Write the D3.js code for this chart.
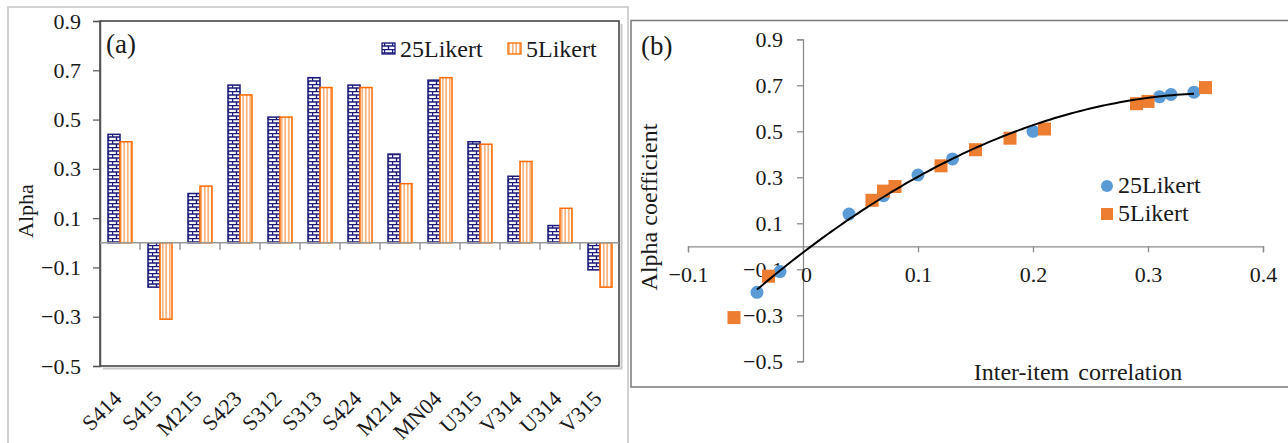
<!DOCTYPE html>
<html>
<head>
<meta charset="utf-8">
<script src="https://cdn.jsdelivr.net/npm/d3@7"></script>
<style>
  html, body { margin: 0; padding: 0; background: #fff; }
  svg { display: block; font-family: "Liberation Serif", "Times New Roman", serif; }
</style>
</head>
<body>
<svg id="chart" width="1288" height="443"></svg>
<script>
// ---------- data ----------
const categories = ["S414","S415","M215","S423","S312","S313","S424","M214","MN04","U315","V314","U314","V315"];
const alpha25 = [0.44,-0.18,0.20,0.64,0.51,0.67,0.64,0.36,0.66,0.41,0.27,0.07,-0.11];
const alpha5  = [0.41,-0.31,0.23,0.60,0.51,0.63,0.63,0.24,0.67,0.40,0.33,0.14,-0.18];
const seriesNames = ["25Likert","5Likert"];
const yTicks = [-0.5,-0.3,-0.1,0.1,0.3,0.5,0.7,0.9];

const corr25 = [-0.04,-0.02,0.04,0.07,0.10,0.13,0.20,0.31,0.32,0.34];
const coef25 = [-0.20,-0.11,0.14,0.22,0.31,0.38,0.50,0.65,0.66,0.67];
const corr5  = [-0.06,-0.03,0.06,0.07,0.08,0.12,0.15,0.18,0.21,0.29,0.30,0.35];
const coef5  = [-0.31,-0.13,0.20,0.24,0.26,0.35,0.42,0.47,0.51,0.62,0.63,0.69];
const xTicksB = [-0.1,0,0.1,0.2,0.3,0.4];

// ---------- setup ----------
const svg = d3.select("#chart");
const FONT = 22, BIG = 24;
const navy = "#1b1b7d", orangeBar = "#ff6a00";
const blueDot = "#5b9bd5", orangeDot = "#ed7d31";
const textCol = "#1a1a1a";

const defs = svg.append("defs");
const brick = defs.append("pattern").attr("id","brick").attr("patternUnits","userSpaceOnUse")
  .attr("width",8).attr("height",7);
brick.append("rect").attr("width",8).attr("height",7).attr("fill","#fff");
brick.append("path").attr("d","M0,0.5H8M0,4H8M0.5,0V4M4.5,4V7")
  .attr("stroke",navy).attr("stroke-width",1.4).attr("fill","none");
const vert = defs.append("pattern").attr("id","vert").attr("patternUnits","userSpaceOnUse")
  .attr("width",3.5).attr("height",4);
vert.append("rect").attr("width",3.5).attr("height",4).attr("fill","#fff");
vert.append("path").attr("d","M1.75,0V4").attr("stroke",orangeBar).attr("stroke-width",0.9);

// ---------- panel (a) ----------
svg.append("rect").attr("x",8).attr("y",7).attr("width",620).attr("height",460)
  .attr("fill","none").attr("stroke","#d2d2d2").attr("stroke-width",2);

const x0 = d3.scaleBand().domain(categories).range([100,620]).paddingInner(0).paddingOuter(0);
const x1 = d3.scaleBand().domain(seriesNames).range([0,x0.bandwidth()]).paddingInner(0).paddingOuter(2/3);
const yA = d3.scaleLinear().domain([-0.5,0.9]).range([366,21]);

// frame shadow + frame
svg.append("path").attr("d",`M621.5,24V368.5H103`).attr("fill","none").attr("stroke","#c8c8c8").attr("stroke-width",2);
svg.append("rect").attr("x",100).attr("y",21).attr("width",519).attr("height",345)
  .attr("fill","#fff").attr("stroke","#3a3a3a").attr("stroke-width",1.5);

// y axis
const gyA = svg.append("g").attr("transform","translate(100,0)")
  .call(d3.axisLeft(yA).tickValues(yTicks).tickSize(7).tickPadding(12).tickFormat(d3.format(".1f")));
gyA.select(".domain").attr("stroke","#555").attr("stroke-width",1.5);
gyA.selectAll(".tick line").attr("stroke","#555").attr("stroke-width",1.2);
gyA.selectAll(".tick text").attr("font-size",FONT).attr("fill",textCol).attr("font-family","Liberation Serif");

// bars
const rows = categories.map((c,i)=>({c, vals:[{s:"25Likert",v:alpha25[i]},{s:"5Likert",v:alpha5[i]}]}));
const gb = svg.append("g");
rows.forEach(r=>{
  r.vals.forEach(d=>{
    gb.append("rect")
      .attr("x", x0(r.c)+x1(d.s))
      .attr("y", Math.min(yA(d.v), yA(0)))
      .attr("width", x1.bandwidth())
      .attr("height", Math.abs(yA(d.v)-yA(0)))
      .attr("fill", d.s==="25Likert" ? "url(#brick)" : "url(#vert)")
      .attr("stroke", d.s==="25Likert" ? navy : orangeBar)
      .attr("stroke-width", 1.5);
  });
});

// zero line with category boundary ticks
svg.append("line").attr("x1",100).attr("x2",619).attr("y1",yA(0)).attr("y2",yA(0))
  .attr("stroke","#9a9a9a").attr("stroke-width",1.5);
svg.append("g").selectAll("line").data(categories.slice(1)).join("line")
  .attr("x1",d=>x0(d)).attr("x2",d=>x0(d)).attr("y1",yA(0)).attr("y2",yA(0)+7)
  .attr("stroke","#9a9a9a").attr("stroke-width",1.5);

// category labels
const gxA = svg.append("g").attr("transform",`translate(0,366)`)
  .call(d3.axisBottom(x0).tickSize(0).tickFormat(d=>d));
gxA.select(".domain").remove();
gxA.selectAll(".tick text")
  .attr("font-size",FONT).attr("fill",textCol).attr("font-family","Liberation Serif")
  .attr("text-anchor","end").attr("dy",null).attr("y",null)
  .attr("transform","translate(3,34) rotate(-45)");

// y title
svg.append("text").attr("transform","translate(33,211) rotate(-90)")
  .attr("text-anchor","middle").attr("font-size",FONT).attr("fill",textCol).text("Alpha");
svg.append("text").attr("x",106).attr("y",53).attr("font-size",27).attr("fill",textCol).text("(a)");

// legend (a)
const legA = [{s:"25Likert",x:382,fill:"url(#brick)",st:navy},{s:"5Likert",x:508,fill:"url(#vert)",st:orangeBar}];
legA.forEach(l=>{
  svg.append("rect").attr("x",l.x).attr("y",43).attr("width",13).attr("height",11)
    .attr("fill",l.fill).attr("stroke",l.st).attr("stroke-width",1.3);
  svg.append("text").attr("x",l.x+18).attr("y",57).attr("font-size",BIG).attr("fill",textCol).text(l.s);
});

// ---------- panel (b) ----------
svg.append("path").attr("d","M1295,20.5H631V387H1295").attr("fill","none")
  .attr("stroke","#7a7a7a").attr("stroke-width",1.5);

const xB = d3.scaleLinear().domain([-0.1,0.4]).range([688,1263]);
const yB = d3.scaleLinear().domain([-0.5,0.9]).range([361.3,39.3]);

const gyB = svg.append("g").attr("transform",`translate(${xB(0)},0)`)
  .call(d3.axisLeft(yB).tickValues(yTicks).tickSize(6).tickPadding(14).tickFormat(d3.format(".1f")));
gyB.select(".domain").attr("stroke","#8c8c8c").attr("stroke-width",1.3);
gyB.selectAll(".tick line").attr("stroke","#8c8c8c").attr("stroke-width",1.3);
gyB.selectAll(".tick text").attr("font-size",FONT).attr("fill",textCol).attr("font-family","Liberation Serif");

const gxB = svg.append("g").attr("transform",`translate(0,${yB(0)})`)
  .call(d3.axisBottom(xB).tickValues(xTicksB).tickSize(6).tickPadding(14)
    .tickFormat(d=> d===0 ? "0" : d3.format(".1f")(d)));
gxB.select(".domain").attr("stroke","#8c8c8c").attr("stroke-width",1.3);
gxB.selectAll(".tick line").attr("stroke","#8c8c8c").attr("stroke-width",1.3);
gxB.selectAll(".tick text").attr("font-size",FONT).attr("fill",textCol).attr("font-family","Liberation Serif");
gxB.selectAll(".tick").filter(d=>d===0).select("text").attr("dx",3);

// points
const pts25 = corr25.map((x,i)=>({x, y:coef25[i]}));
const pts5 = corr5.map((x,i)=>({x, y:coef5[i]}));
svg.append("g").selectAll("circle").data(pts25).join("circle")
  .attr("cx",d=>xB(d.x)).attr("cy",d=>yB(d.y)).attr("r",6.5).attr("fill",blueDot);
svg.append("g").selectAll("rect").data(pts5).join("rect")
  .attr("x",d=>xB(d.x)-6.5).attr("y",d=>yB(d.y)-6.5).attr("width",13).attr("height",13).attr("fill",orangeDot);

// polynomial (order 2) least-squares trendline on 25Likert series
function polyFit2(xs, ys){
  let S=[0,0,0,0,0], T=[0,0,0];
  xs.forEach((x,i)=>{ for(let k=0;k<5;k++) S[k]+=Math.pow(x,k); for(let k=0;k<3;k++) T[k]+=ys[i]*Math.pow(x,k); });
  const A=[[S[0],S[1],S[2],T[0]],[S[1],S[2],S[3],T[1]],[S[2],S[3],S[4],T[2]]];
  for(let i=0;i<3;i++){
    let p=i; for(let r=i+1;r<3;r++) if(Math.abs(A[r][i])>Math.abs(A[p][i])) p=r;
    [A[i],A[p]]=[A[p],A[i]];
    for(let r=0;r<3;r++){ if(r===i) continue; const f=A[r][i]/A[i][i]; for(let c=i;c<4;c++) A[r][c]-=f*A[i][c]; }
  }
  return [A[0][3]/A[0][0], A[1][3]/A[1][1], A[2][3]/A[2][2]];
}
const coefs = polyFit2(corr25, coef25);
const xmin = d3.min(corr25), xmax = d3.max(corr25);
const curve = d3.range(0,101).map(i=>{ const x = xmin + (xmax-xmin)*i/100; return [x, coefs[0]+coefs[1]*x+coefs[2]*x*x]; });
svg.append("path").datum(curve)
  .attr("d", d3.line().x(d=>xB(d[0])).y(d=>yB(d[1])))
  .attr("fill","none").attr("stroke","#000").attr("stroke-width",2);

// titles
svg.append("text").attr("transform","translate(657,207) rotate(-90)")
  .attr("text-anchor","middle").attr("font-size",BIG).attr("fill",textCol).text("Alpha coefficient");
svg.append("text").attr("x",1078).attr("y",380).attr("text-anchor","middle")
  .attr("font-size",BIG).attr("fill",textCol).attr("word-spacing",3).text("Inter-item correlation");
svg.append("text").attr("x",641).attr("y",55).attr("font-size",27).attr("fill",textCol).text("(b)");

// legend (b)
svg.append("circle").attr("cx",1107).attr("cy",186).attr("r",6).attr("fill",blueDot);
svg.append("text").attr("x",1118).attr("y",193).attr("font-size",BIG).attr("fill",textCol).text("25Likert");
svg.append("rect").attr("x",1101).attr("y",208).attr("width",12).attr("height",12).attr("fill",orangeDot);
svg.append("text").attr("x",1118).attr("y",221).attr("font-size",BIG).attr("fill",textCol).text("5Likert");
</script>
</body>
</html>
